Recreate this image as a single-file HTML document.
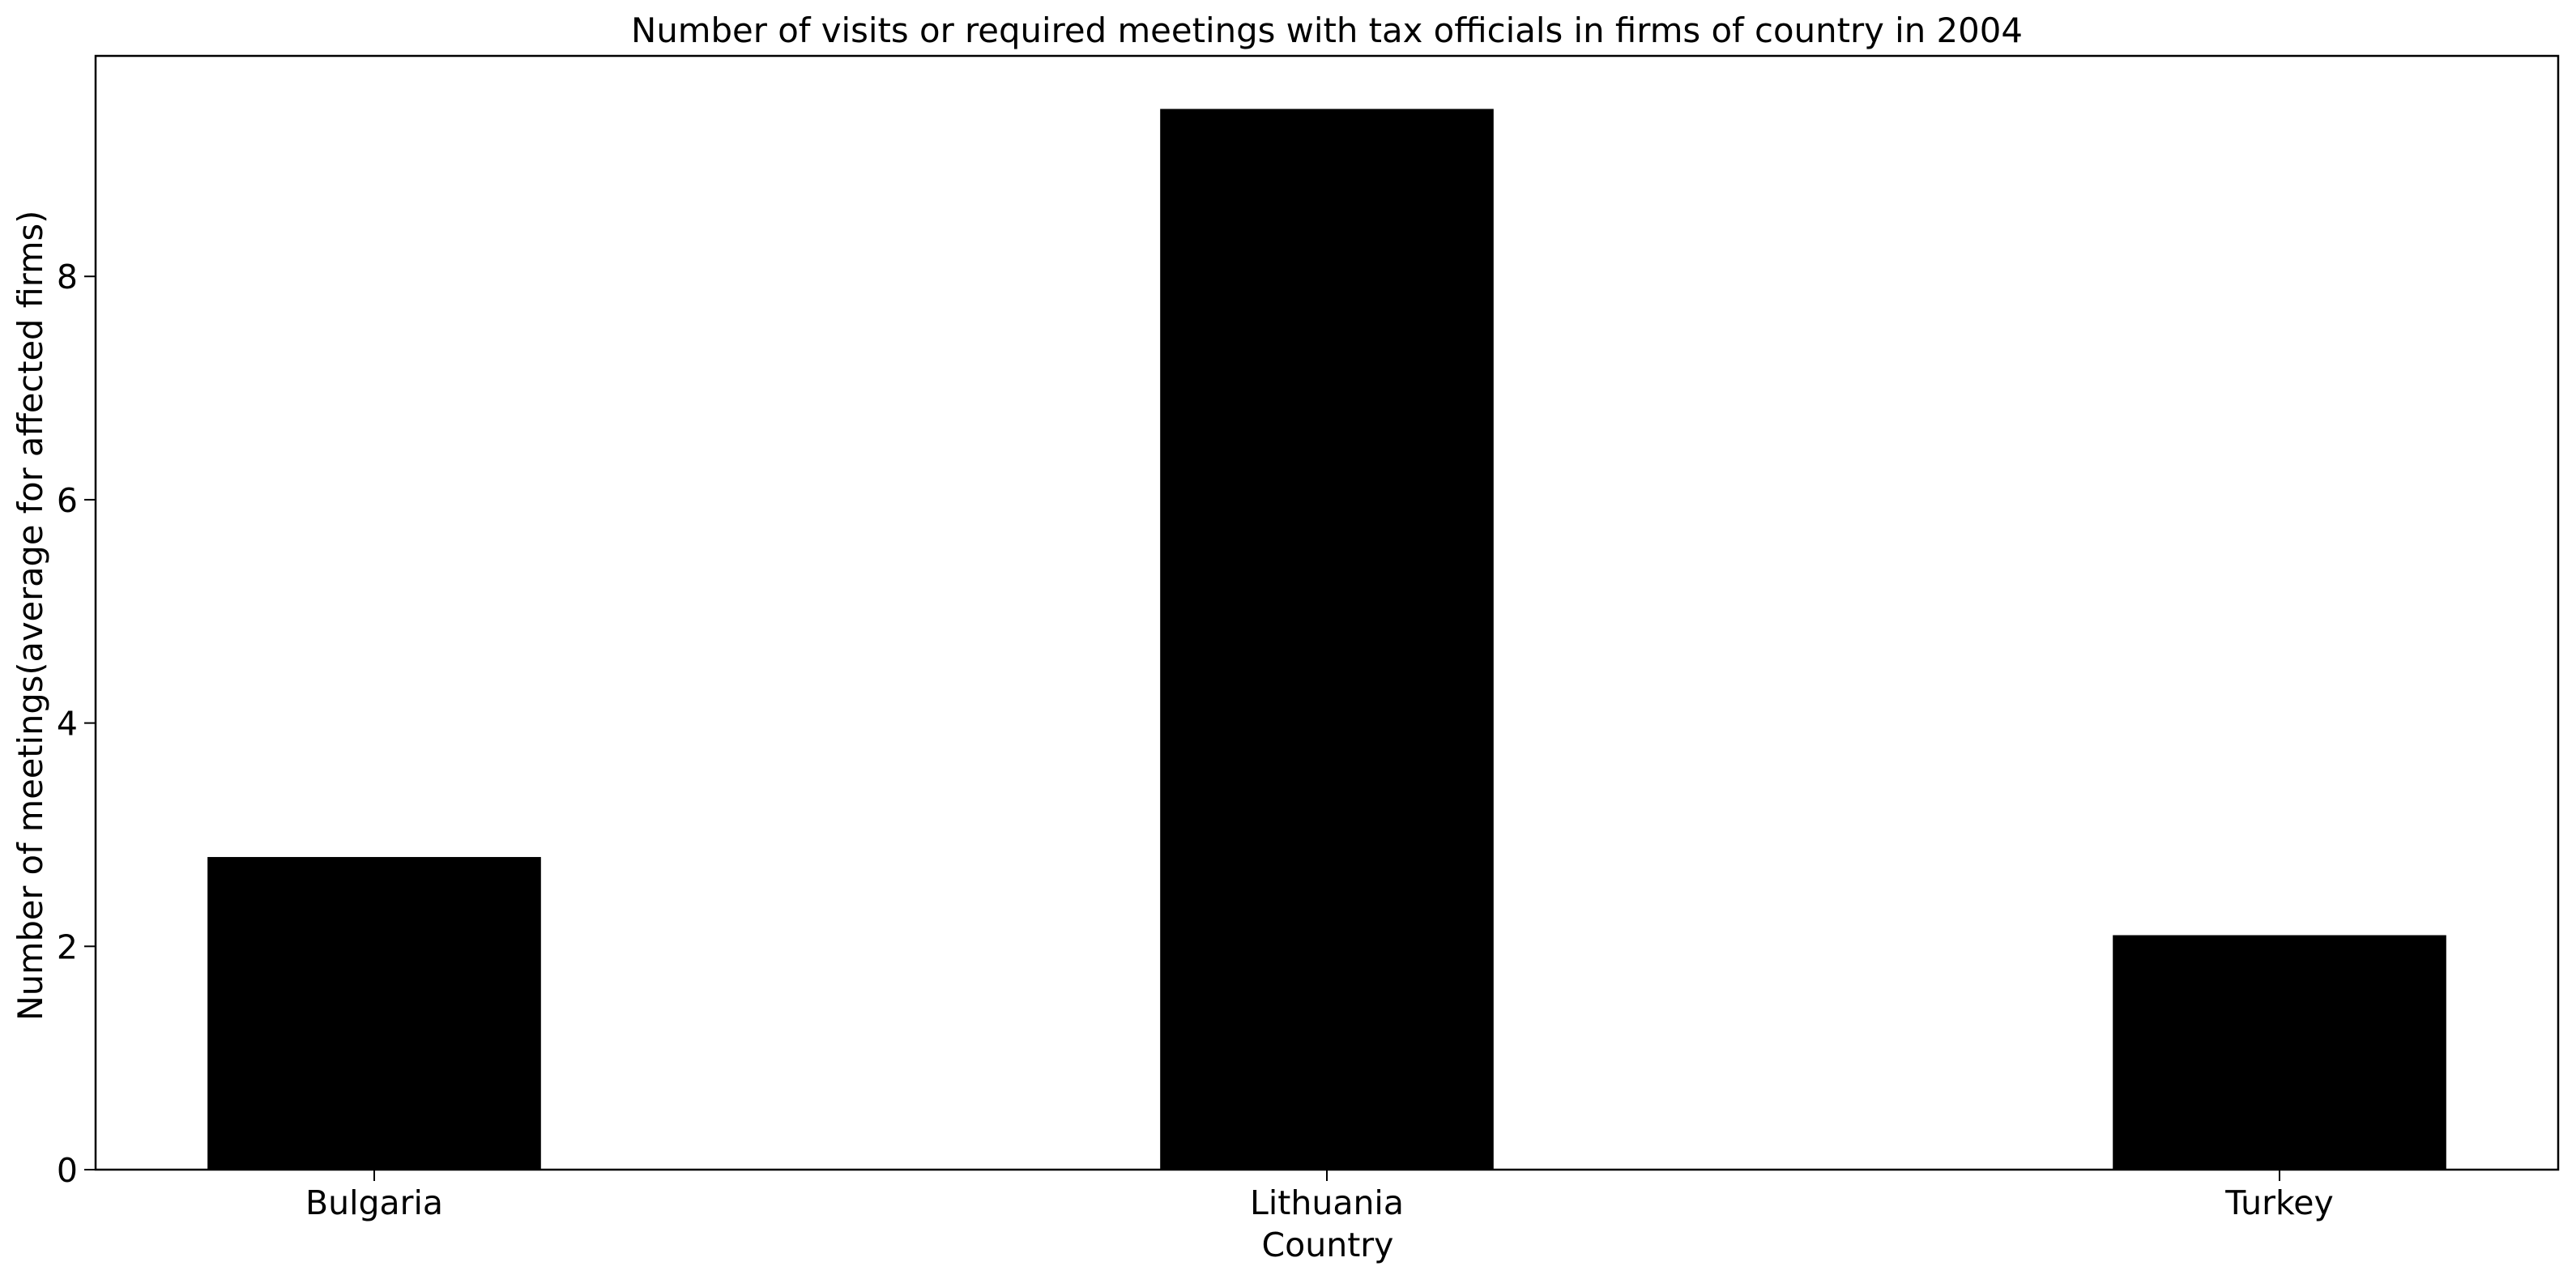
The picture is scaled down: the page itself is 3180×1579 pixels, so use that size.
<!DOCTYPE html>
<html><head><meta charset="utf-8">
<style>
html,body{margin:0;padding:0;background:#fff;}
svg{display:block;}
text{font-family:"DejaVu Sans","Liberation Sans",sans-serif;fill:#000;}
</style></head>
<body>
<svg id="chart" width="3180" height="1579" viewBox="0 0 3180 1579">
<rect x="0" y="0" width="3180" height="1579" fill="#fff"/>
<text x="1638" y="52" font-size="41.8" text-anchor="middle">Number of visits or required meetings with tax officials in firms of country in 2004</text>
<g id="bars"></g>
<g id="yticks"></g>
<g id="xticks"></g>
<rect x="118" y="69" width="3040" height="1375" fill="none" stroke="#000" stroke-width="2.5"/>
<text x="1639" y="1551" font-size="41" text-anchor="middle">Country</text>
<text transform="translate(52,760) rotate(-90)" font-size="41.5" text-anchor="middle">Number of meetings(average for affected firms)</text>
</svg>
<script>
const categories = ["Bulgaria", "Lithuania", "Turkey"];
const values = [2.8, 9.5, 2.1];
const yTicks = [0, 2, 4, 6, 8];
const yTickLabels = ["0", "2", "4", "6", "8"];

const NS = "http://www.w3.org/2000/svg";
const plot = {left:118, right:3158, top:69, bottom:1444};
const xMin = -0.2925, xMax = 2.2925, yMin = 0, yMax = 9.975;
const barWidth = 0.35;
function xScale(v){ return plot.left + (v - xMin) / (xMax - xMin) * (plot.right - plot.left); }
function yScale(v){ return plot.bottom - (v - yMin) / (yMax - yMin) * (plot.bottom - plot.top); }

const barsG = document.getElementById('bars');
categories.forEach((c, i) => {
  const r = document.createElementNS(NS, 'rect');
  const x0 = xScale(i - barWidth/2), x1 = xScale(i + barWidth/2);
  r.setAttribute('x', x0);
  r.setAttribute('width', x1 - x0);
  r.setAttribute('y', yScale(values[i]));
  r.setAttribute('height', yScale(0) - yScale(values[i]));
  r.setAttribute('fill', '#000');
  
  
  barsG.appendChild(r);
});

const yG = document.getElementById('yticks');
yTicks.forEach((t, i) => {
  const y = yScale(t);
  const l = document.createElementNS(NS, 'line');
  l.setAttribute('x1', plot.left - 14); l.setAttribute('x2', plot.left);
  l.setAttribute('y1', y); l.setAttribute('y2', y);
  l.setAttribute('stroke', '#000'); l.setAttribute('stroke-width', '2');
  
  
  yG.appendChild(l);
  const tx = document.createElementNS(NS, 'text');
  tx.setAttribute('x', plot.left - 22); tx.setAttribute('y', y + 15);
  tx.setAttribute('font-size', '41'); tx.setAttribute('text-anchor', 'end');
  tx.textContent = yTickLabels[i];
  
  
  yG.appendChild(tx);
});

const xG = document.getElementById('xticks');
categories.forEach((c, i) => {
  const x = xScale(i);
  const l = document.createElementNS(NS, 'line');
  l.setAttribute('x1', x); l.setAttribute('x2', x);
  l.setAttribute('y1', plot.bottom); l.setAttribute('y2', plot.bottom + 14);
  l.setAttribute('stroke', '#000'); l.setAttribute('stroke-width', '2');
  
  
  xG.appendChild(l);
  const tx = document.createElementNS(NS, 'text');
  tx.setAttribute('x', x); tx.setAttribute('y', plot.bottom + 55);
  tx.setAttribute('font-size', '41'); tx.setAttribute('text-anchor', 'middle');
  tx.textContent = c;
  
  
  xG.appendChild(tx);
});
</script>
</body></html>
